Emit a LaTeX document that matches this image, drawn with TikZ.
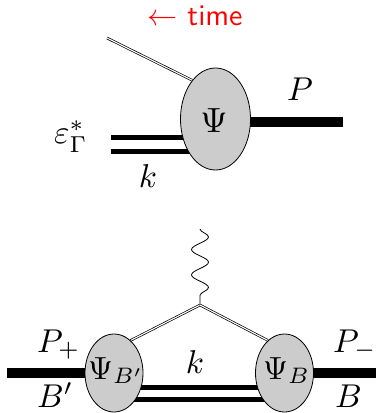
\documentclass[tikz,border=0pt]{standalone}
\usetikzlibrary{shapes.geometric,backgrounds,decorations.pathmorphing}
% labels are set at 10pt and then enlarged
\newcommand{\enl}[2][3.3]{\scalebox{#1}{#2}}
\begin{document}
\begin{tikzpicture}[x=1pt,y=-1pt,
  blob/.style={ellipse,draw=black,line width=0.8pt,fill=black!20,inner sep=0pt},
  thinpair/.style={draw=black,double=white,line width=0.7pt,double distance=1.1pt},
  heavy/.style={line width=10pt},
  pairline/.style={line width=5pt},
  photon/.style={line width=0.8pt,decorate,decoration={snake,amplitude=8.5pt,segment length=25.3pt}},
  lbl/.style={font=\fontsize{10}{12}\selectfont,inner sep=0pt}]
\useasboundingbox (0,0) rectangle (376,413);

% time direction
\node[lbl,text=red,anchor=base] (time) at (195,25) {\enl[3]{$\leftarrow$ \textsf{time}}};

% upper diagram: vertex with a single bound state
\node[blob,minimum width=70pt,minimum height=102pt] (psi) at (215.5,119) {};
\node[lbl,anchor=base] (psitxt) at (214,132) {\enl[3.5]{$\Psi$}};
\coordinate (a) at (107,38);
\coordinate (e1) at (111,137.5);
\coordinate (e2) at (111,151.5);
\coordinate (pout) at (343,122);
\begin{scope}[on background layer]
  \draw[thinpair] (a) -- (psi.121);
  \draw[pairline] (e1) -- (e1 -| psi.center);
  \draw[pairline] (e2) -- (e2 -| psi.center);
  \draw[heavy] (pout -| psi.center) -- (pout);
\end{scope}
\node[lbl,anchor=base] (plab) at (300,100) {\enl{$P$}};
\node[lbl,anchor=base west] (eps) at (54,143) {\enl{$\varepsilon^*_\Gamma$}};
\node[lbl,anchor=base] (k1) at (148,187) {\enl{$k$}};

% lower diagram: triangle with photon coupling
\node[blob,minimum width=58pt,minimum height=78pt] (L) at (114,373) {};
\node[blob,minimum width=58pt,minimum height=78pt] (R) at (284.5,373) {};
\node[lbl,anchor=base west] (Ltxt) at (88,379) {\enl[3.2]{$\Psi_{B'}$}};
\node[lbl,anchor=base west] (Rtxt) at (263,379) {\enl[3.2]{$\Psi_B$}};
\coordinate (v) at (200,305);
\coordinate (w) at (200,229);
\coordinate (lin) at (7,372.5);
\coordinate (rout) at (376,372.5);
\coordinate (b1) at (0,387.5);
\coordinate (b2) at (0,399);
\begin{scope}[on background layer]
  \draw[photon] (w) -- (v);
  \draw[thinpair] (v) -- (L.63);
  \draw[thinpair] (v) -- (R.117);
  \draw[heavy] (lin) -- (lin -| L.center);
  \draw[heavy] (rout -| R.center) -- (rout);
  \draw[pairline] (b1 -| L.center) -- (b1 -| R.center);
  \draw[pairline] (b2 -| L.center) -- (b2 -| R.center);
\end{scope}
\node[lbl,anchor=base west] (pp) at (37,352) {\enl{$P_+$}};
\node[lbl,anchor=base west] (pm) at (333,352) {\enl{$P_-$}};
\node[lbl,anchor=base west] (bp) at (37,407.5) {\enl{$B'$}};
\node[lbl,anchor=base west] (bb) at (335,407.5) {\enl{$B$}};
\node[lbl,anchor=base] (k2) at (195,373) {\enl{$k$}};
\end{tikzpicture}
\end{document}
